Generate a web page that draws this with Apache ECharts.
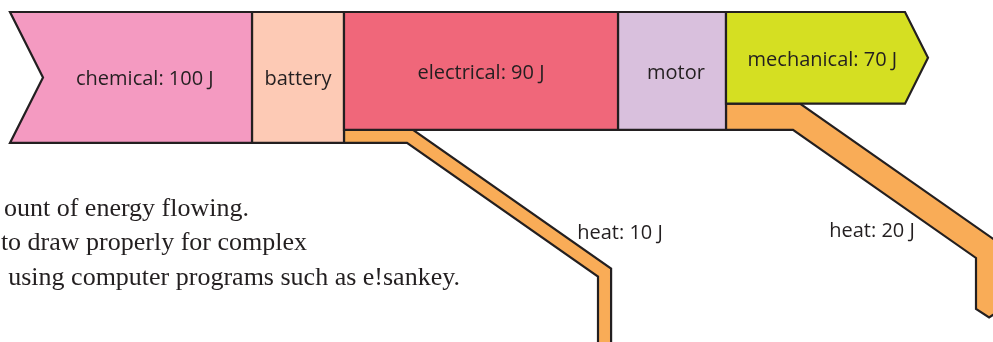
<!DOCTYPE html>
<html>
<head>
<meta charset="utf-8">
<title>Energy flow</title>
<script src="https://cdn.jsdelivr.net/npm/echarts@6/dist/echarts.min.js"></script>
<style>
  html, body { margin: 0; padding: 0; background: #fff; }
  #chart { width: 993px; height: 342px; }
</style>
</head>
<body>
<div id="chart"></div>
<script>
// energy forms along the chain, amount in J
const flowNames = ['chemical', 'electrical', 'mechanical'];
const flowValues = [100, 90, 70];
// devices between the forms
const converterNames = ['battery', 'motor'];
// heat lost by each device, in J
const heatName = 'heat';
const heatValues = [10, 20];
const unit = 'J';

// layout (x axis units are px): edges chemical | battery | electrical | motor | mechanical
const blockEdges = [10, 252, 344, 618, 726, 905];
const notchDepth = 33;
const arrowTip = 23;
const flowColors = ['#f49ac1', '#f0677a', '#d5df22'];
const converterColors = ['#fdcab5', '#d9c0dd'];
const heatColor = '#f9ac57';
const ink = '#231f20';
// heat pipes: horizontal stub, diagonal, vertical drop
const heatLayout = [
  { outer: 69, inner: 63, drop: 598, end: 350, label: [620, 233] },
  { outer: 74, inner: 67, drop: 976, end: 309, label: [872, 231] }
];
const slope = 0.7;

const items = [];
heatValues.forEach((v, i) => items.push(['heat', i]));
converterNames.forEach((n, i) => items.push(['converter', i]));
flowNames.forEach((n, i) => items.push(['flow', i]));

const labelFont = { fontFamily: '"Open Sans"', fontSize: 20 };

function label(text, x, y) {
  return {
    type: 'text',
    style: Object.assign({ text: text, x: x, y: y, fill: ink, align: 'center', verticalAlign: 'middle' }, labelFont),
    z2: 10
  };
}

function poly(points, color) {
  return {
    type: 'polygon',
    shape: { points: points },
    style: { fill: color, stroke: ink, lineWidth: 2.2, lineJoin: 'miter' }
  };
}

function renderItem(params, api) {
  const kind = items[params.dataIndex][0];
  const i = items[params.dataIndex][1];
  const c = (x, v) => api.coord([x, v]);
  if (kind === 'flow') {
    const L = blockEdges[i * 2], R = blockEdges[i * 2 + 1];
    const top = c(L, 0)[1], bot = c(L, flowValues[i])[1];
    const l = c(L, 0)[0], r = c(R, 0)[0];
    const mid = (top + bot) / 2;
    const pts = [[l, top], [r, top]];
    if (i === flowNames.length - 1) pts.push([r + arrowTip, mid]);
    pts.push([r, bot], [l, bot]);
    if (i === 0) pts.push([l + notchDepth, mid]);
    let cx = (l + r) / 2;
    if (i === 0) cx += notchDepth * 0.42;
    if (i === flowNames.length - 1) cx += arrowTip * 0.3;
    const txt = flowNames[i] + ': ' + flowValues[i] + ' ' + unit;
    return { type: 'group', children: [poly(pts, flowColors[i]), label(txt, cx, mid + 2)] };
  }
  if (kind === 'converter') {
    const L = blockEdges[i * 2 + 1], R = blockEdges[i * 2 + 2];
    const top = c(L, 0)[1], bot = c(L, flowValues[i])[1];
    const l = c(L, 0)[0], r = c(R, 0)[0];
    const pts = [[l, top], [r, top], [r, bot], [l, bot]];
    return { type: 'group', children: [poly(pts, converterColors[i]), label(converterNames[i], (l + r) / 2 + i * 4, (top + bot) / 2 + 2)] };
  }
  // heat pipe leaving converter i under the next flow
  const g = heatLayout[i];
  const x0 = c(blockEdges[i * 2 + 2], 0)[0];
  const yTop = c(0, flowValues[i + 1])[1];
  const yBot = c(0, flowValues[i + 1] + heatValues[i])[1];
  const h = yBot - yTop;
  const xv = c(g.drop, 0)[0];
  const x1 = x0 + g.outer, x2 = x0 + g.inner;
  const yTo = yTop + slope * (xv + h - x1);
  const yTi = yBot + slope * (xv - x2);
  const pts = [
    [x0, yTop], [x1, yTop], [xv + h, yTo], [xv + h, g.end],
    [xv + h / 2, g.end + h * 0.32], [xv, g.end], [xv, yTi], [x2, yBot], [x0, yBot]
  ];
  const txt = heatName + ': ' + heatValues[i] + ' ' + unit;
  return { type: 'group', children: [poly(pts, heatColor), label(txt, g.label[0], g.label[1])] };
}

const chart = echarts.init(document.getElementById('chart'));
chart.setOption({
  animation: false,
  grid: { left: 0, right: 0, top: 12, bottom: 0 },
  xAxis: { type: 'value', min: 0, max: 993, show: false },
  yAxis: { type: 'value', min: 0, max: 252, inverse: true, show: false },
  graphic: [
    { type: 'text', x: 249, y: 209, style: { text: 'ount of energy flowing.', align: 'right', verticalAlign: 'middle', fill: ink, fontFamily: '"Liberation Serif"', fontSize: 26 } },
    { type: 'text', x: 307, y: 243, style: { text: 'to draw properly for complex', align: 'right', verticalAlign: 'middle', fill: ink, fontFamily: '"Liberation Serif"', fontSize: 26 } },
    { type: 'text', x: 460, y: 278, style: { text: 'using computer programs such as e!sankey.', align: 'right', verticalAlign: 'middle', fill: ink, fontFamily: '"Liberation Serif"', fontSize: 26 } }
  ],
  series: [{
    type: 'custom',
    coordinateSystem: 'cartesian2d',
    renderItem: renderItem,
    data: items.map((d, k) => [k, 0]),
    silent: true
  }]
});
</script>
</body>
</html>
